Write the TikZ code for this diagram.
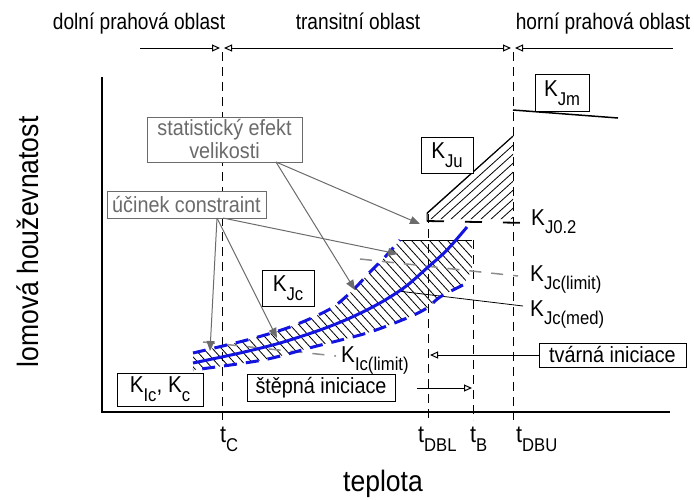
\documentclass[tikz,border=0pt]{standalone}
\usepackage{fontspec}
\setmainfont{Liberation Sans}[FakeStretch=0.9]
\newfontfamily\narrowfont{Liberation Sans}[FakeStretch=0.85]
\usepackage{tikz}
\usetikzlibrary{arrows.meta,calc}
\definecolor{bandblue}{RGB}{20,20,225}
\definecolor{notegray}{gray}{0.42}
\newcommand{\fsz}[1]{\fontsize{#1}{#1}\selectfont}
\newcommand{\lowsub}[1]{\raisebox{-0.38em}{\fontsize{18.5}{18.5}\selectfont #1}}

\begin{document}
\begin{tikzpicture}[x=1pt, y=-1pt,
  axisline/.style={line width=2.5pt},
  guide/.style={dash pattern=on 9pt off 6pt, line width=1pt},
  bandline/.style={bandblue, line width=3pt, dash pattern=on 13pt off 9pt},
  medline/.style={bandblue, line width=3pt},
  hatchline/.style={line width=0.8pt},
  limitline/.style={black!45, line width=1.5pt, dash pattern=on 12pt off 10pt},
  kbox/.style={rectangle, draw, fill=white, line width=1pt, inner sep=0pt, font=\fsz{23}},
  notebox/.style={rectangle, draw=notegray, fill=white, text=notegray, line width=1pt, inner sep=0pt, font=\fontsize{22}{23}\selectfont, align=center},
  textbox/.style={rectangle, draw, fill=white, line width=1pt, inner sep=0pt, font=\fsz{22}},
  klabel/.style={anchor=base west, inner sep=0pt, font=\fsz{23}},
  ticklabel/.style={anchor=base west, inner sep=0pt, font=\fsz{24}},
  region/.style={anchor=base, inner sep=0pt, font=\narrowfont\fsz{22.5}},
  note/.style={-{Triangle[length=10pt,width=8pt]}, notegray, line width=1pt},
  span/.style={line width=1pt, {Triangle[open,length=8pt,width=7pt]}-{Triangle[open,length=8pt,width=7pt]}},
  half/.style={line width=1pt, -{Triangle[open,length=8pt,width=7pt]}}
]
\useasboundingbox (0,0) rectangle (694,499);

% regions on top
\node[region] (lower) at (139,29) {dolní prahová oblast};
\node[region] (trans) at (358,29) {transitní oblast};
\node[region] (upper) at (603,29) {horní prahová oblast};
\coordinate (r0) at (140,48);
\coordinate (r1) at (222,48);
\coordinate (r2) at (513,48);
\coordinate (r3) at (673,48);
\draw[half] (r0) -- ([xshift=-2pt]r1);
\draw[span] ([xshift=2pt]r1) -- ([xshift=-2pt]r2);
\draw[half] (r3) -- ([xshift=2pt]r2);

% temperature guides
\draw[guide] (222,52) -- (222,420);
\draw[guide] (428,214) -- (428,420);
\draw[guide] (473,240) -- (473,420);
\draw[guide] (513,52) -- (513,420);

% scatter band
\begin{scope}
  \clip plot[smooth] coordinates {(193,353) (247,340) (290,327) (330,309) (352,291) (370,272) (385,257) (400,240)}
    -- (472,240) -- (472,270)
    -- plot[smooth] coordinates {(463,285) (440,297) (427,308) (407,318) (367,333) (313,347) (263,360) (193,370)} -- cycle;
  \foreach \x in {60,69,...,480}
    \draw[hatchline] (\x,230) -- ++(136,150);
\end{scope}
\draw[line width=1pt] (400,240) -- (472,240);

% K_Ju region
\begin{scope}
  \clip (427,219) -- (427,213) -- (513,136) -- (513,219) -- cycle;
  \foreach \x in {330,340,...,520}
    \draw[hatchline] (\x,220) -- ++(100,-90);
\end{scope}
\draw[line width=1pt] (427,221) -- (427,213) -- (513,136);
\draw[line width=1.8pt, dash pattern=on 17pt off 21pt] (427,221) -- (528,223);
\draw[line width=1.5pt] (513,110) -- (618,118);

% limit and median lines
\draw[limitline] (360,259) -- (518,276);
\draw[limitline] (203,342) -- (336,356);
\draw[line width=0.8pt] (398,291) -- (523,306);

\draw[bandline] plot[smooth] coordinates {(193,353) (247,340) (290,327) (330,309) (352,291) (370,272) (385,257) (400,240)};
\draw[bandline] plot[smooth] coordinates {(463,285) (440,297) (427,308) (407,318) (367,333) (313,347) (263,360) (193,370)};
\draw[medline] plot[smooth] coordinates {(193,363) (240,353) (280,343) (320,330) (350,318) (380,303) (405,287) (427,268) (447,250) (467,227)};

% axes
\draw[axisline] (102,77) -- (102,412) -- (670,412);
\node[anchor=base, inner sep=0pt, font=\fsz{29.5}] (temp) at (383,491) {teplota};
\node[anchor=base, rotate=90, inner sep=0pt, font=\fsz{29.5}] (tough) at (38,242) {lomová houževnatost};

\node[ticklabel] (tc) at (220,442) {t\lowsub{C}};
\node[ticklabel] (tdbl) at (418,442) {t\lowsub{DBL}};
\node[ticklabel] (tb) at (470,442) {t\lowsub{B}};
\node[ticklabel] (tdbu) at (516,442) {t\lowsub{DBU}};

% boxes
\node[kbox, minimum width=54pt, minimum height=37pt] (kjm) at (562,93) {K\lowsub{Jm}};
\node[kbox, minimum width=52pt, minimum height=36pt] (kju) at (447,155) {K\lowsub{Ju}};
\node[kbox, minimum width=52pt, minimum height=36pt] (kjc) at (288,288) {K\lowsub{Jc}};
\node[kbox, minimum width=86pt, minimum height=33pt] (kic) at (160,389.5) {K\lowsub{Ic}, K\lowsub{c}};
\node[notebox, minimum width=155pt, minimum height=45pt] (stat) at (224.5,139.5) {statistický efekt\\velikosti};
\node[notebox, minimum width=159pt, minimum height=27pt] (cons) at (186.5,204.5) {účinek constraint};
\node[textbox, minimum width=148pt, minimum height=27pt] (cleave) at (321,388) {štěpná iniciace};
\node[textbox, minimum width=147pt, minimum height=24pt] (ductile) at (612.5,355) {tvárná iniciace};

% free labels
\node[klabel] (kj02) at (531,225) {K\lowsub{J0.2}};
\node[klabel] (kjclim) at (530,281) {K\lowsub{Jc(limit)}};
\node[klabel] (kjcmed) at (530,316) {K\lowsub{Jc(med)}};
\node[klabel] (kiclim) at (341,362) {K\lowsub{Ic(limit)}};

% initiation arrows
\coordinate (ductend) at (430,355);
\draw[half] (ductile.west) -- (ductend);
\coordinate (cleavestart) at (417,388);
\coordinate (cleaveend) at (472,388);
\draw[half] (cleavestart) -- (cleaveend);

% effect arrows
\coordinate (statfoot) at (276,162);
\coordinate (consfoot) at (217,218);
\coordinate (j02tip) at (420,224);
\coordinate (stattip) at (355,290);
\coordinate (constipa) at (398,254);
\coordinate (constipb) at (210,351);
\coordinate (constipc) at (277,338);
\draw[note] (statfoot) -- (j02tip);
\draw[note] (statfoot) -- (stattip);
\draw[note] ([xshift=6pt]consfoot) -- (constipa);
\draw[note] (consfoot) -- (constipb);
\draw[note] (consfoot) -- (constipc);
\end{tikzpicture}
\end{document}
